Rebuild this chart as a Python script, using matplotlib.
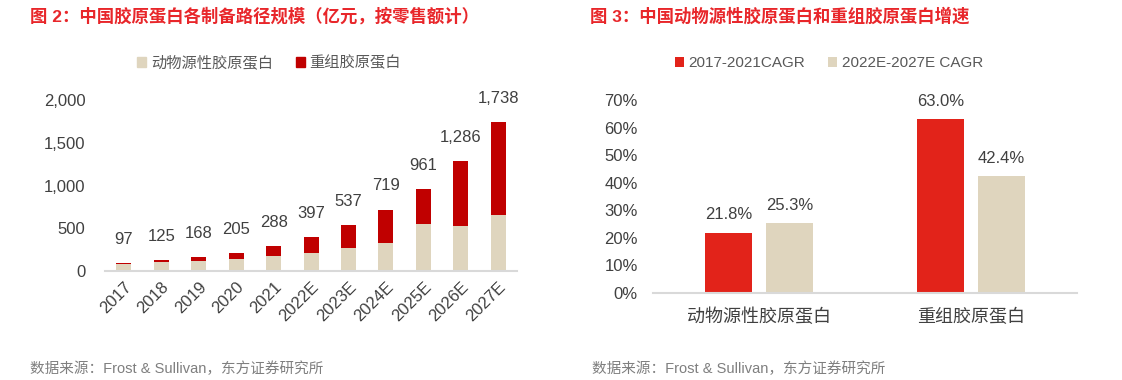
import matplotlib
matplotlib.use("Agg")
import matplotlib.pyplot as plt
from matplotlib.patches import Patch
from matplotlib.ticker import FuncFormatter

plt.rcParams['font.family'] = ['Liberation Sans', 'Noto Sans CJK SC', 'DejaVu Sans']

# 图2 数据
years = ['2017', '2018', '2019', '2020', '2021', '2022E', '2023E', '2024E', '2025E', '2026E', '2027E']
totals = [97, 125, 168, 205, 288, 397, 537, 719, 961, 1286, 1738]
animal = [86, 102, 120, 140, 179, 207, 269, 328, 546, 523, 655]
recomb = [t - a for t, a in zip(totals, animal)]

# 图3 数据
cats = ['动物源性胶原蛋白', '重组胶原蛋白']
cagr_hist = [21.8, 63.0]
cagr_fcst = [25.3, 42.4]

BEIGE = '#DFD5BE'
DARKRED = '#C00000'
RED = '#E2231A'
TXT = '#404040'
TITLE = '#E8262A'

fig = plt.figure(figsize=(11.22, 3.8), dpi=100)

# ---------- 左图 ----------
ax1 = fig.add_axes([0.0936, 0.2868, 0.3672, 0.45])
x = range(len(years))
ax1.bar(x, animal, width=0.4, color=BEIGE)
ax1.bar(x, recomb, width=0.4, bottom=animal, color=DARKRED)
for i, t in enumerate(totals):
    ax1.annotate(f'{t:,}', (i, t), xytext=(0, 17), textcoords='offset points',
                 ha='center', va='center', fontsize=12, color=TXT)
ax1.set_xlim(-0.5, len(years) - 0.5)
ax1.set_ylim(0, 2000)
ax1.set_yticks([0, 500, 1000, 1500, 2000])
ax1.yaxis.set_major_formatter(FuncFormatter(lambda v, p: f'{int(v):,}'))
ax1.set_xticks(list(x))
ax1.set_xticklabels(years, rotation=45, ha='right', rotation_mode='anchor')
ax1.tick_params(axis='both', length=0, labelsize=12, labelcolor=TXT)
ax1.tick_params(axis='y', pad=14)
ax1.tick_params(axis='x', pad=6)
for s in ['top', 'right', 'left']:
    ax1.spines[s].set_visible(False)
ax1.spines['bottom'].set_color('#D9D9D9')
ax1.spines['bottom'].set_linewidth(1.5)
ax1.legend(handles=[Patch(color=BEIGE, label='动物源性胶原蛋白'),
                    Patch(color=DARKRED, label='重组胶原蛋白')],
           loc='center', bbox_to_anchor=(0.398, 1.215), ncol=2, frameon=False,
           fontsize=11, labelcolor='#595959', handlelength=0.6, handleheight=0.6,
           handletextpad=0.3, columnspacing=1.5)

# ---------- 右图 ----------
ax2 = fig.add_axes([0.582, 0.2289, 0.3779, 0.5079])
xc = range(len(cats))
off = 0.143
w = 0.222
ax2.bar([i - off for i in xc], cagr_hist, width=w, color=RED, label='2017-2021CAGR')
ax2.bar([i + off for i in xc], cagr_fcst, width=w, color=BEIGE, label='2022E-2027E CAGR')
for i in xc:
    ax2.annotate(f'{cagr_hist[i]:.1f}%', (i - off, cagr_hist[i]), xytext=(0, 13),
                 textcoords='offset points', ha='center', va='center', fontsize=12, color=TXT)
    ax2.annotate(f'{cagr_fcst[i]:.1f}%', (i + off, cagr_fcst[i]), xytext=(0, 13),
                 textcoords='offset points', ha='center', va='center', fontsize=12, color=TXT)
ax2.set_xlim(-0.5, 1.5)
ax2.set_ylim(0, 70)
ax2.set_yticks(range(0, 71, 10))
ax2.yaxis.set_major_formatter(FuncFormatter(lambda v, p: f'{int(v)}%'))
ax2.set_xticks(list(xc))
ax2.set_xticklabels(cats)
ax2.tick_params(axis='both', length=0, labelsize=12, labelcolor=TXT)
ax2.tick_params(axis='x', labelsize=13, pad=11)
ax2.tick_params(axis='y', pad=11)
for s in ['top', 'right', 'left']:
    ax2.spines[s].set_visible(False)
ax2.spines['bottom'].set_color('#D9D9D9')
ax2.spines['bottom'].set_linewidth(1.5)
ax2.legend(loc='center', bbox_to_anchor=(0.415, 1.19), ncol=2, frameon=False,
           fontsize=11, labelcolor='#595959', handlelength=0.6, handleheight=0.6,
           handletextpad=0.3, columnspacing=1.5)

# ---------- 标题与来源 ----------
fig.text(30 / 1122, 1 - 16 / 380, '图 2：中国胶原蛋白各制备路径规模（亿元，按零售额计）',
         ha='left', va='center', fontsize=12.5, fontweight='bold', color=TITLE)
fig.text(590 / 1122, 1 - 16 / 380, '图 3：中国动物源性胶原蛋白和重组胶原蛋白增速',
         ha='left', va='center', fontsize=12.5, fontweight='bold', color=TITLE)
fig.text(30 / 1122, 1 - 369 / 380, '数据来源：Frost & Sullivan，东方证券研究所',
         ha='left', va='center', fontsize=10.5, color='#7F7F7F')
fig.text(592 / 1122, 1 - 369 / 380, '数据来源：Frost & Sullivan，东方证券研究所',
         ha='left', va='center', fontsize=10.5, color='#7F7F7F')

fig.savefig('out.png', dpi=100)
